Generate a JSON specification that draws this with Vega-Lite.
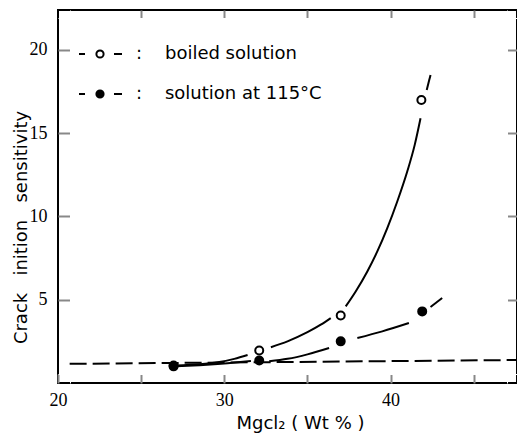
{
  "$schema": "https://vega.github.io/schema/vega-lite/v6.json",
  "width": 459,
  "height": 373,
  "autosize": {"type": "none"},
  "padding": {"left": 58, "top": 10, "right": 0, "bottom": 51},
  "background": "white",
  "config": {
    "view": {"stroke": "black", "strokeWidth": 2}
  },
  "datasets": {
    "base": [
      {"x": 20.7, "y": 1.15},
      {"x": 47.6, "y": 1.38}
    ],
    "curves": [
      {"series": "boiled", "seg": "b1", "x": 27.1, "y": 1.05},
      {"series": "boiled", "seg": "b1", "x": 28.5, "y": 1.12},
      {"series": "boiled", "seg": "b1", "x": 29.6, "y": 1.24},
      {"series": "boiled", "seg": "b1", "x": 30.6, "y": 1.45},
      {"series": "boiled", "seg": "b1", "x": 31.4, "y": 1.68},
      {"series": "boiled", "seg": "b2", "x": 32.8, "y": 2.15},
      {"series": "boiled", "seg": "b2", "x": 33.8, "y": 2.5},
      {"series": "boiled", "seg": "b2", "x": 35.0, "y": 3.05},
      {"series": "boiled", "seg": "b2", "x": 35.8, "y": 3.5},
      {"series": "boiled", "seg": "b2", "x": 36.4, "y": 3.9},
      {"series": "boiled", "seg": "b3", "x": 37.3, "y": 4.6},
      {"series": "boiled", "seg": "b3", "x": 37.9, "y": 5.5},
      {"series": "boiled", "seg": "b3", "x": 38.6, "y": 6.7},
      {"series": "boiled", "seg": "b3", "x": 39.2, "y": 7.9},
      {"series": "boiled", "seg": "b3", "x": 39.8, "y": 9.3},
      {"series": "boiled", "seg": "b3", "x": 40.4, "y": 10.9},
      {"series": "boiled", "seg": "b3", "x": 41.0, "y": 12.7},
      {"series": "boiled", "seg": "b3", "x": 41.45, "y": 14.3},
      {"series": "boiled", "seg": "b3", "x": 41.8, "y": 15.9},
      {"series": "boiled", "seg": "b4", "x": 42.17, "y": 17.6},
      {"series": "boiled", "seg": "b4", "x": 42.4, "y": 18.5},
      {"series": "hot", "seg": "h1", "x": 27.1, "y": 1.0},
      {"series": "hot", "seg": "h1", "x": 28.5, "y": 1.07},
      {"series": "hot", "seg": "h1", "x": 29.6, "y": 1.14},
      {"series": "hot", "seg": "h1", "x": 30.8, "y": 1.24},
      {"series": "hot", "seg": "h1", "x": 31.6, "y": 1.32},
      {"series": "hot", "seg": "h2", "x": 32.7, "y": 1.3},
      {"series": "hot", "seg": "h2", "x": 33.8, "y": 1.45},
      {"series": "hot", "seg": "h2", "x": 35.0, "y": 1.72},
      {"series": "hot", "seg": "h2", "x": 36.3, "y": 2.1},
      {"series": "hot", "seg": "h3", "x": 38.0, "y": 2.7},
      {"series": "hot", "seg": "h3", "x": 39.5, "y": 3.1},
      {"series": "hot", "seg": "h3", "x": 41.1, "y": 3.6},
      {"series": "hot", "seg": "h4", "x": 42.4, "y": 4.56},
      {"series": "hot", "seg": "h4", "x": 43.1, "y": 5.1}
    ],
    "points": [
      {"series": "boiled solution", "x": 26.95, "y": 1.05},
      {"series": "boiled solution", "x": 32.1, "y": 1.95},
      {"series": "boiled solution", "x": 37.0, "y": 4.05},
      {"series": "boiled solution", "x": 41.85, "y": 17.0},
      {"series": "solution at 115°C", "x": 26.95, "y": 1.0},
      {"series": "solution at 115°C", "x": 32.1, "y": 1.35},
      {"series": "solution at 115°C", "x": 37.0, "y": 2.5},
      {"series": "solution at 115°C", "x": 41.9, "y": 4.3}
    ]
  },
  "resolve": {"axis": {"x": "independent", "y": "independent"}},
  "layer": [
    {
      "data": {"name": "base"},
      "mark": {"type": "line", "color": "black", "strokeWidth": 2, "strokeDash": [17, 6], "clip": true},
      "encoding": {
        "x": {
          "field": "x", "type": "quantitative",
          "scale": {"domain": [20, 47.6], "nice": false, "zero": false},
          "axis": {
            "orient": "bottom",
            "offset": -9,
            "values": [20, 25, 30, 35, 40, 45],
            "domainColor": "white",
            "gridOpacity": 0,
            "tickWidth": 2,
            "tickSize": 9,
            "labelFont": "Liberation Sans Narrow", "labelFontSize": 18, "labelColor": "black", "labelFlush": false,
            "labelExpr": "datum.value % 10 === 0 ? datum.label : ''",
            "labelPadding": 8,
            "labelBaseline": "top",
            "title": "Mgcl₂ ( Wt % )",
            "titleFont": "DejaVu Sans", "titleFontSize": 18, "titleFontWeight": "normal", "titleColor": "black",
            "titleX": 242,
            "titleY": 54,
            "titleBaseline": "alphabetic"
          }
        },
        "y": {
          "field": "y", "type": "quantitative",
          "scale": {"domain": [0, 22.4], "nice": false, "zero": false},
          "axis": {
            "orient": "left",
            "offset": -12,
            "values": [5, 10, 15, 20],
            "domainColor": "white",
            "gridOpacity": 0,
            "tickWidth": 2,
            "tickSize": 12,
            "labelFont": "Liberation Sans Narrow", "labelFontSize": 18, "labelColor": "black", "labelFlush": false,
            "labelPadding": 11,
            "title": "Crack\u00a0\u00a0\u00a0inition\u00a0\u00a0\u00a0sensitivity",
            "titleFont": "DejaVu Sans", "titleFontSize": 18, "titleFontWeight": "normal", "titleColor": "black",
            "titleX": -44,
            "titleY": 217,
            "titleAngle": -90,
            "titleAlign": "center",
            "titleBaseline": "alphabetic"
          }
        }
      }
    },
    {
      "data": {"name": "curves"},
      "mark": {"type": "line", "color": "black", "strokeWidth": 2, "interpolate": "monotone", "clip": true},
      "encoding": {
        "x": {
          "field": "x", "type": "quantitative",
          "axis": {"orient": "top", "offset": -8, "values": [25, 30, 35, 40, 45], "labels": false, "domainColor": "white", "gridOpacity": 0, "tickWidth": 2, "tickSize": 8, "title": null}
        },
        "y": {
          "field": "y", "type": "quantitative",
          "axis": {"orient": "right", "offset": -10, "values": [5, 10, 15, 20], "labels": false, "domainColor": "white", "gridOpacity": 0, "tickWidth": 2, "tickSize": 10, "title": null}
        },
        "detail": {"field": "seg"}
      }
    },
    {
      "data": {"name": "points"},
      "mark": {"type": "point", "shape": "circle", "filled": true, "size": 64, "stroke": "black", "strokeWidth": 2, "opacity": 1},
      "encoding": {
        "x": {"field": "x", "type": "quantitative", "axis": null},
        "y": {"field": "y", "type": "quantitative", "axis": null},
        "fill": {
          "field": "series", "type": "nominal",
          "scale": {"domain": ["boiled solution", "solution at 115°C"], "range": ["white", "black"]},
          "legend": {
            "orient": "none",
            "legendX": 33,
            "legendY": 35,
            "title": null,
            "padding": 0,
            "symbolType": "M-5.25,0L-3.75,0M3.5,0L5.5,0M0.9,0A0.9,0.9,0,1,1,-0.9,0A0.9,0.9,0,1,1,0.9,0Z",
            "symbolSize": 64,
            "symbolStrokeColor": "black",
            "symbolStrokeWidth": 2,
            "symbolOpacity": 1,
            "labelFont": "DejaVu Sans",
            "labelFontSize": 18,
            "labelColor": "black",
            "labelOffset": 27,
            "labelLimit": 0,
            "rowPadding": 22,
            "labelExpr": "':\u00a0\u00a0\u00a0\u00a0' + datum.label"
          }
        }
      }
    }
  ]
}
